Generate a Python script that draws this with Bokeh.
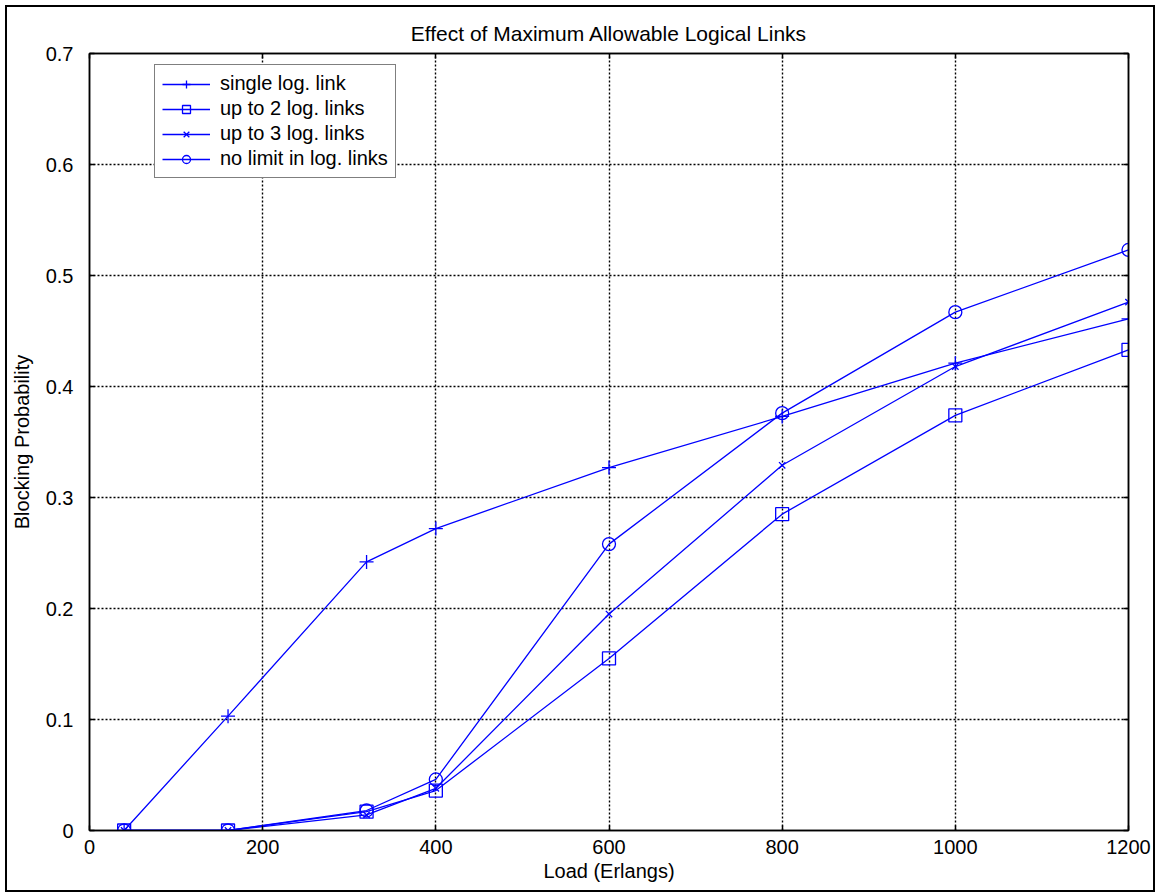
from bokeh.plotting import figure
from bokeh.models import (Range1d, FixedTicker, LinearAxis, CustomJSTickFormatter, Legend)
from bokeh.embed import file_html
from bokeh.resources import INLINE

# Load values (Erlangs) and blocking probabilities for each link limit
load = [40, 160, 320, 400, 600, 800, 1000, 1200]
single_link = [0.0, 0.103, 0.242, 0.272, 0.327, 0.373, 0.421, 0.461]
up_to_2 = [0.0, 0.0, 0.017, 0.036, 0.155, 0.285, 0.374, 0.433]
up_to_3 = [0.0, 0.0, 0.014, 0.038, 0.195, 0.329, 0.418, 0.476]
no_limit = [0.0, 0.0, 0.018, 0.046, 0.258, 0.376, 0.467, 0.523]

series_names = ["single log. link", "up to 2 log. links",
                "up to 3 log. links", "no limit in log. links"]

x_ticks = [0, 200, 400, 600, 800, 1000, 1200]
x_tick_labels = ["0", "200", "400", "600", "800", "1000", "1200"]
y_ticks = [0.0, 0.1, 0.2, 0.3, 0.4, 0.5, 0.6, 0.7]
y_tick_labels = ["0", "0.1", "0.2", "0.3", "0.4", "0.5", "0.6", "0.7"]

FONT = "Liberation Sans"
BLUE = "#0000ff"

p = figure(width=1146, height=883, output_backend="svg", toolbar_location=None,
           x_range=Range1d(0, 1200), y_range=Range1d(0, 0.7),
           title="Effect of Maximum Allowable Logical Links",
           min_border_left=81, min_border_right=25, min_border_top=46,
           min_border_bottom=60)
p.margin = (7, 5, 4, 7)
p.styles = {"outline": "2px solid black"}

p.background_fill_color = "white"
p.border_fill_color = "white"
p.outline_line_color = "black"
p.outline_line_width = 1.5

p.title.align = "center"
p.title.text_font = FONT
p.title.text_font_size = "21px"
p.title.text_font_style = "normal"
p.title.text_color = "black"
p.title.standoff = 17

# Axes: ticks inside, on all four sides
bottom_ax = p.below[0]
left_ax = p.left[0]
right_ax = LinearAxis()
top_ax = LinearAxis()
p.add_layout(right_ax, "right")
p.add_layout(top_ax, "above")

for ax in [bottom_ax, top_ax]:
    ax.ticker = FixedTicker(ticks=x_ticks)
for ax in [left_ax, right_ax]:
    ax.ticker = FixedTicker(ticks=y_ticks)

bottom_ax.major_label_overrides = dict(zip(x_ticks, x_tick_labels))
left_ax.major_label_overrides = dict(zip(y_ticks, y_tick_labels))
for ax in [right_ax, top_ax]:
    ax.formatter = CustomJSTickFormatter(code="return ''")
    ax.major_label_standoff = 0

for ax in [bottom_ax, left_ax, right_ax, top_ax]:
    ax.major_tick_in = 5
    ax.major_tick_out = 0
    ax.minor_tick_line_color = None
    ax.major_tick_line_color = "black"
    ax.major_tick_line_width = 1.5
    ax.axis_line_color = "black"
    ax.axis_line_width = 1.5
    ax.major_label_text_font = FONT
    ax.major_label_text_font_size = "20px"
    ax.major_label_text_color = "black"

bottom_ax.axis_label = "Load (Erlangs)"
left_ax.axis_label = "Blocking Probability"
for ax in [bottom_ax, left_ax]:
    ax.axis_label_text_font = FONT
    ax.axis_label_text_font_size = "20px"
    ax.axis_label_text_font_style = "normal"
    ax.axis_label_text_color = "black"
bottom_ax.major_label_standoff = 9
bottom_ax.axis_label_standoff = 3
left_ax.major_label_standoff = 16
left_ax.axis_label_standoff = 10

# Dotted grid
for g in [p.xgrid[0], p.ygrid[0]]:
    g.grid_line_color = "black"
    g.grid_line_dash = "2 2"
    g.grid_line_width = 1.4
p.xgrid[0].ticker = FixedTicker(ticks=x_ticks)
p.ygrid[0].ticker = FixedTicker(ticks=y_ticks)

series = [single_link, up_to_2, up_to_3, no_limit]
markers = ["cross", "square", "x", "circle"]
sizes = [14, 13, 9, 13]

items = []
for name, vals, mk, sz in zip(series_names, series, markers, sizes):
    ln = p.line(load, vals, line_color=BLUE, line_width=1.3)
    sc = p.scatter(load, vals, marker=mk, size=sz, line_color=BLUE,
                   fill_color=None, line_width=1.3)
    items.append((name, [ln, sc]))

legend = Legend(items=items, location=(65, 652))
legend.label_text_font = FONT
legend.label_text_font_size = "20px"
legend.label_text_color = "black"
legend.border_line_color = "black"
legend.border_line_width = 1.5
legend.background_fill_color = "white"
legend.background_fill_alpha = 1.0
legend.padding = 7
legend.margin = 0
legend.spacing = 2
legend.glyph_width = 48
legend.glyph_height = 20
legend.label_height = 20
legend.label_standoff = 10
p.add_layout(legend)

open("out.html", "w").write(file_html(p, INLINE))
